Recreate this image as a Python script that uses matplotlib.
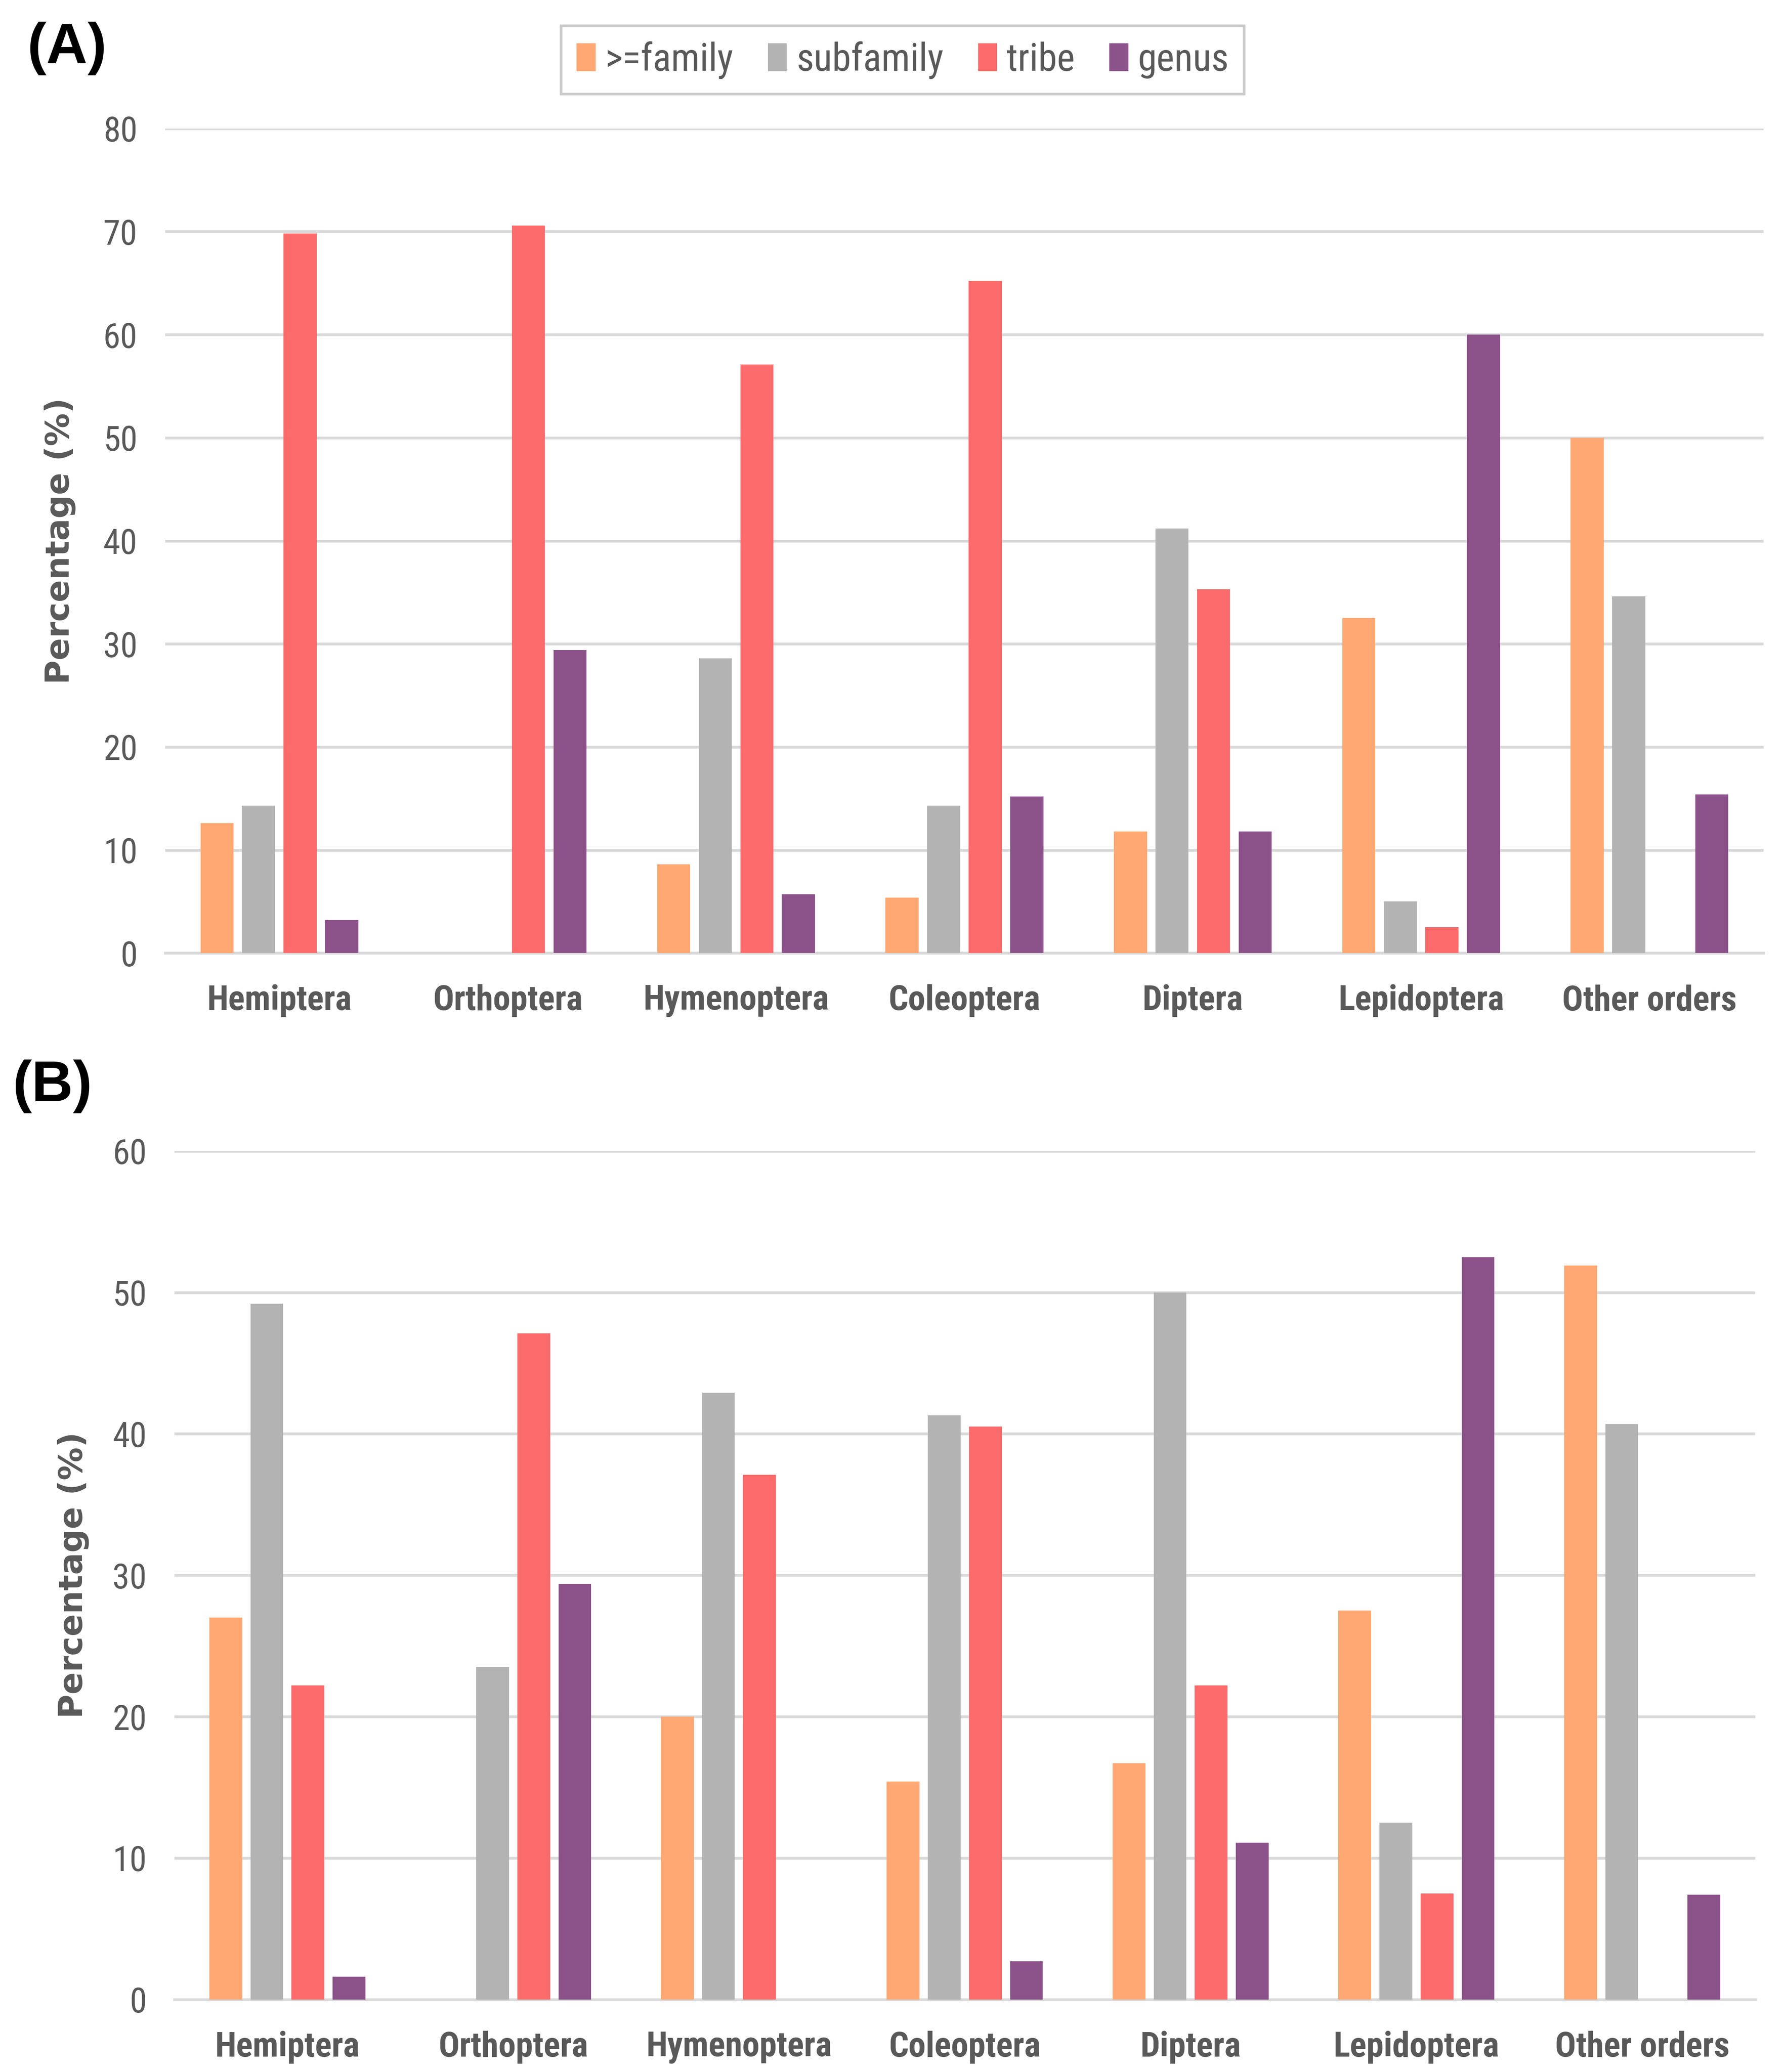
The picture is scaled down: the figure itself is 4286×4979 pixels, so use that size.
import matplotlib
matplotlib.use("Agg")
import matplotlib.pyplot as plt
from matplotlib import font_manager
import numpy as np

categories = ["Hemiptera", "Orthoptera", "Hymenoptera", "Coleoptera", "Diptera", "Lepidoptera", "Other orders"]
series_names = [">=family", "subfamily", "tribe", "genus"]
colors = ["#FFA873", "#B3B3B3", "#FC6B6B", "#8B5189"]

a_family = [12.6, 0, 8.6, 5.4, 11.8, 32.5, 50.0]
a_subfamily = [14.3, 0, 28.6, 14.3, 41.2, 5.0, 34.6]
a_tribe = [69.8, 70.6, 57.1, 65.2, 35.3, 2.5, 0]
a_genus = [3.2, 29.4, 5.7, 15.2, 11.8, 60.0, 15.4]

b_family = [27.0, 0, 20.0, 15.4, 16.7, 27.5, 51.9]
b_subfamily = [49.2, 23.5, 42.9, 41.3, 50.0, 12.5, 40.7]
b_tribe = [22.2, 47.1, 37.1, 40.5, 22.2, 7.5, 0]
b_genus = [1.6, 29.4, 0, 2.7, 11.1, 52.5, 7.4]

a_ticks = [0, 10, 20, 30, 40, 50, 60, 70, 80]
b_ticks = [0, 10, 20, 30, 40, 50, 60]

fonts = {}
for f in font_manager.fontManager.ttflist:
    fonts.setdefault(f.name, set()).add(f.weight if isinstance(f.weight, int) else 400)
candidates = ["Roboto Condensed", "PT Sans Narrow", "Archivo Narrow", "Fira Sans Condensed",
              "IBM Plex Sans Condensed", "Open Sans Condensed", "Barlow Semi Condensed",
              "Liberation Sans Narrow", "Encode Sans Condensed"]
narrow = None
for c in candidates:
    if c in fonts and any(w >= 600 for w in fonts[c]) and any(w <= 500 for w in fonts[c]):
        narrow = c
        break
if narrow is None:
    for c in candidates:
        if c in fonts:
            narrow = c
            break
if narrow is None:
    narrow = "DejaVu Sans"
narrow_list = [narrow, "DejaVu Sans"]
label_font = ["Liberation Sans", "DejaVu Sans"]

text_color = "#595959"
grid_color = "#D9D9D9"

fig = plt.figure(figsize=(4286 / 300, 4979 / 300), dpi=300)

def draw(ax, data, ticks, ymax):
    x = np.arange(len(categories))
    width = 0.145
    pitch = 0.182
    offsets = (np.arange(4) - 1.5) * pitch
    handles = []
    for i, vals in enumerate(data):
        h = ax.bar(x + offsets[i], vals, width=width, color=colors[i], label=series_names[i], zorder=3)
        handles.append(h)
    ax.set_xlim(-0.5, len(categories) - 0.5)
    ax.set_ylim(0, ymax)
    ax.set_yticks(ticks)
    ax.set_yticklabels([str(t) for t in ticks], fontsize=20, color=text_color, family=narrow_list)
    ax.set_xticks(x)
    ax.set_xticklabels(categories, fontsize=20, fontweight="bold", color=text_color, family=narrow_list)
    ax.tick_params(axis="x", length=0, pad=18)
    ax.tick_params(axis="y", length=0, pad=16)
    ax.grid(axis="y", color=grid_color, linewidth=1.6, zorder=0)
    for s in ["top", "right", "left"]:
        ax.spines[s].set_visible(False)
    ax.spines["bottom"].set_color(grid_color)
    ax.spines["bottom"].set_linewidth(1.6)
    ax.set_ylabel("Percentage (%)", fontsize=19, fontweight="bold", color=text_color, family="DejaVu Sans")
    return handles

axA = fig.add_axes([0.0926, 0.540, 0.896, 0.398])
hA = draw(axA, [a_family, a_subfamily, a_tribe, a_genus], a_ticks, 80)
axA.yaxis.set_label_coords(-0.056, 0.5)

axB = fig.add_axes([0.0978, 0.035, 0.886, 0.4095])
draw(axB, [b_family, b_subfamily, b_tribe, b_genus], b_ticks, 60)
axB.yaxis.set_label_coords(-0.054, 0.5)

leg = fig.legend(handles=hA, labels=series_names, loc="center", bbox_to_anchor=(0.506, 0.971),
                 ncol=4, frameon=True, fancybox=False, edgecolor="#BFBFBF",
                 prop={"family": narrow_list, "size": 22},
                 handlelength=0.5, handleheight=0.75, handletextpad=0.25, columnspacing=0.9,
                 borderpad=0.4)
for t in leg.get_texts():
    t.set_color(text_color)
leg.get_frame().set_linewidth(1.5)

fig.text(0.0152, 0.9767, "(A)", fontsize=33, fontweight="bold", color="black",
         va="center", ha="left", family=label_font)
fig.text(0.007, 0.4756, "(B)", fontsize=33, fontweight="bold", color="black",
         va="center", ha="left", family=label_font)

fig.savefig("out.png", dpi=300, facecolor="white")
